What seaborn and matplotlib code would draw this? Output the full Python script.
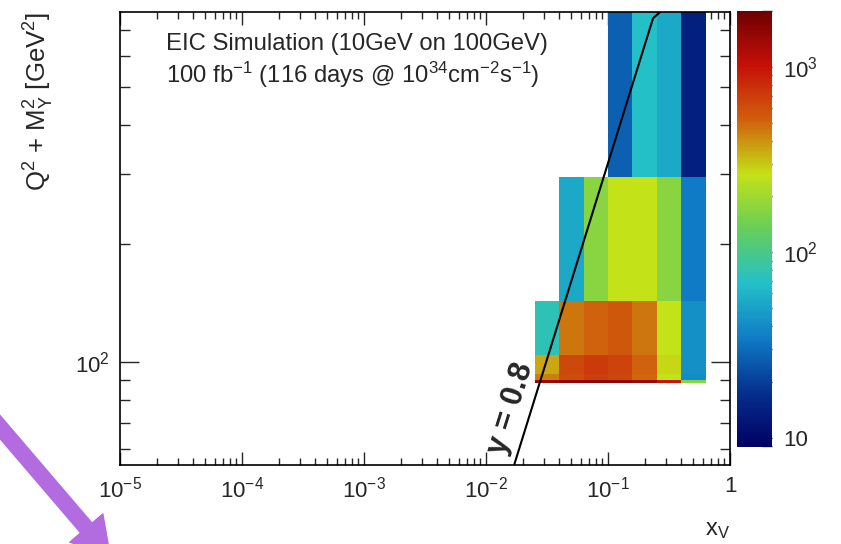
import matplotlib
matplotlib.use("Agg")
import matplotlib.pyplot as plt
import numpy as np
import pandas as pd
import seaborn as sns
from matplotlib import ticker
from matplotlib.colors import LinearSegmentedColormap, LogNorm
from matplotlib.patches import FancyArrowPatch

# bin edges
xv_edges = [0.0251, 0.0398, 0.0631, 0.1, 0.158, 0.251, 0.398, 0.631]
q2m2_edges = [88.5, 90.0, 93.0, 104.0, 143.0, 295.0, 1000.0]

# counts per cell, lowest Q2+M2 row first, 0 = empty bin
counts_row0 = [1450, 1550, 1600, 1550, 1450, 980, 170]
counts_row1 = [437, 600, 690, 640, 500, 260, 40]
counts_row2 = [353, 632, 710, 660, 516, 275, 42]
counts_row3 = [76, 457, 516, 556, 457, 258, 42]
counts_row4 = [0, 54, 170, 258, 258, 170, 34]
counts_row5 = [0, 0, 0, 27, 68, 54, 14]

# y = 0.8 kinematic line
y08_xv = [0.0171, 0.234, 0.29]
y08_q2m2 = [55, 749, 795]

# ROOT kRainBow palette
rb_stops = [0.0, 0.125, 0.25, 0.375, 0.5, 0.625, 0.75, 0.875, 1.0]
rb_red = [0, 5, 15, 35, 102, 196, 208, 199, 110]
rb_green = [0, 48, 124, 192, 206, 226, 97, 16, 0]
rb_blue = [99, 142, 198, 201, 90, 22, 13, 8, 2]


def rainbow_cmap():
    colors = [(s, (r / 255, g / 255, b / 255)) for s, r, g, b in zip(rb_stops, rb_red, rb_green, rb_blue)]
    return LinearSegmentedColormap.from_list("kRainBow", colors, N=256)


def build_df() -> pd.DataFrame:
    rows = [counts_row0, counts_row1, counts_row2, counts_row3, counts_row4, counts_row5]
    data = []
    for j, row in enumerate(rows):
        yc = np.sqrt(q2m2_edges[j] * q2m2_edges[j + 1])
        for i, c in enumerate(row):
            if c > 0:
                xc = np.sqrt(xv_edges[i] * xv_edges[i + 1])
                data.append({"xv": xc, "q2m2": yc, "counts": c})
    return pd.DataFrame(data)


sns.set_style("ticks")
plt.rcParams["font.family"] = ["Liberation Sans", "DejaVu Sans"]
plt.rcParams["mathtext.fontset"] = "custom"
plt.rcParams["mathtext.rm"] = "Liberation Sans"
plt.rcParams["mathtext.it"] = "Liberation Sans:italic"
plt.rcParams["mathtext.bf"] = "Liberation Sans:bold"

fs = 16
fig = plt.figure(figsize=(8.41, 5.44), dpi=100)
ax = fig.add_axes([120 / 841, 79 / 544, 610 / 841, 453 / 544])
cax = fig.add_axes([737 / 841, 97 / 544, 35 / 841, 436 / 544])

df = build_df()
cmap = rainbow_cmap()
sns.histplot(data=df, x="xv", y="q2m2", weights="counts", bins=[xv_edges, q2m2_edges],
             cmap=cmap, ax=ax, cbar=False)
mesh = ax.collections[0]
mesh.set_norm(LogNorm(vmin=8.9, vmax=2000))
mesh.set_cmap(cmap)

ax.plot(y08_xv, y08_q2m2, color="black", linewidth=1.5)

ax.set_xscale("log")
ax.set_yscale("log")
ax.set_xlim(1e-5, 1)
ax.set_ylim(54.7, 777)

ax.xaxis.set_major_locator(ticker.LogLocator(base=10, numticks=10))
ax.xaxis.set_minor_locator(ticker.LogLocator(base=10, subs=np.arange(2, 10), numticks=20))
ax.xaxis.set_major_formatter(ticker.FuncFormatter(
    lambda v, p: "1" if abs(v - 1) < 1e-9 else f"$10^{{{int(round(np.log10(v)))}}}$"))
ax.xaxis.set_minor_formatter(ticker.NullFormatter())
ax.yaxis.set_major_locator(ticker.FixedLocator([100]))
ax.yaxis.set_minor_locator(ticker.LogLocator(base=10, subs=np.arange(2, 10), numticks=20))
ax.yaxis.set_major_formatter(ticker.FixedFormatter(["$10^{2}$"]))
ax.yaxis.set_minor_formatter(ticker.NullFormatter())

ax.tick_params(axis="x", which="major", direction="in", length=9.5, width=1, top=True, bottom=True,
               labelsize=fs, pad=8)
ax.tick_params(axis="x", which="minor", direction="in", length=5, width=1, top=True, bottom=True)
ax.tick_params(axis="y", which="major", direction="in", length=14, width=1, left=True, right=True,
               labelsize=fs, pad=7)
ax.tick_params(axis="y", which="minor", direction="in", length=7, width=1, left=True, right=True)
for s in ax.spines.values():
    s.set_linewidth(1.2)
    s.set_color("black")

ax.set_xlabel(r"x$_{\mathrm{V}}$", fontsize=17, loc="right")
ax.xaxis.set_label_coords(1.0, -0.12)
ax.set_ylabel(r"Q$^{2}$ + M$^{2}_{\Upsilon}$ [GeV$^{2}$]", fontsize=18.5, loc="top")
ax.yaxis.set_label_coords(-0.105, 1.0)

ax.text(0.075, 0.916, "EIC Simulation (10GeV on 100GeV)", transform=ax.transAxes,
        fontsize=17.2, va="baseline", ha="left")
ax.text(0.075, 0.843, r"100 fb$^{-1}$ (116 days @ 10$^{34}$cm$^{-2}$s$^{-1}$)", transform=ax.transAxes,
        fontsize=17.2, va="baseline", ha="left")
ax.text(0.641, 0.124, "y = 0.8", transform=ax.transAxes, fontsize=22, fontweight="bold",
        rotation=72.6, rotation_mode="anchor", ha="center", va="center")

cb = fig.colorbar(mesh, cax=cax)
cb.outline.set_visible(False)
cb.ax.yaxis.set_major_locator(ticker.FixedLocator([10, 100, 1000]))
cb.ax.yaxis.set_major_formatter(ticker.FixedFormatter(["10", "$10^{2}$", "$10^{3}$"]))
cb.ax.yaxis.set_minor_locator(ticker.LogLocator(base=10, subs=np.arange(2, 10), numticks=20))
cb.ax.yaxis.set_minor_formatter(ticker.NullFormatter())
cb.ax.tick_params(which="major", direction="in", length=14, width=1, labelsize=fs, pad=8)
cb.ax.tick_params(which="minor", direction="in", length=7, width=1)

# purple arrow poking in from the lower left
arrow = FancyArrowPatch((-12 / 841, 1 - 413 / 544), (112 / 841, 1 - 558 / 544),
                        transform=fig.transFigure, arrowstyle="simple,head_width=2.6,head_length=2.2,tail_width=0.9",
                        mutation_scale=12, color="#b36be0", clip_on=False)
fig.patches.append(arrow)

fig.savefig("out.png", dpi=100)
